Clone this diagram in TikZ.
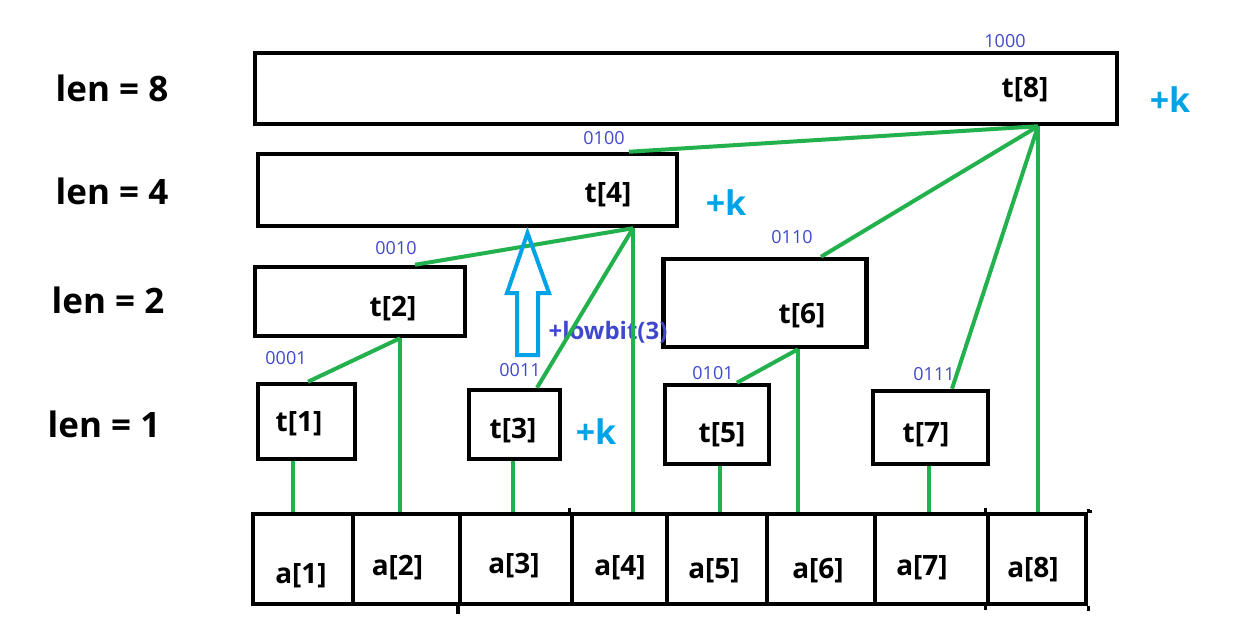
\documentclass[tikz,border=0pt]{standalone}
\usepackage{fontspec}
\setmainfont{Open Sans}
\definecolor{pgreen}{HTML}{22B14C}
\definecolor{pblue}{HTML}{00A2E8}
\definecolor{pindigo}{HTML}{3F48CC}
\tikzset{
  box/.style={draw=black, line width=4.5pt, rectangle, inner sep=0pt, fill=none},
  cell/.style={draw=black, line width=4.5pt, rectangle, inner sep=0pt},
  conn/.style={draw=pgreen, line width=4pt},
  tlbl/.style={inner sep=0pt, font=\fontsize{28}{30}\selectfont\bfseries},
  lenlbl/.style={inner sep=0pt, font=\fontsize{35}{37}\selectfont\bfseries},
  bits/.style={inner sep=0pt, text=pindigo, font=\fontsize{18}{20}\selectfont},
  plusk/.style={inner sep=0pt, text=pblue, font=\fontsize{34}{36}\selectfont\bfseries},
  lowbit/.style={inner sep=0pt, text=pindigo, font=\fontsize{24}{26}\selectfont\bfseries},
  hollowarrow/.style={draw=pblue, line width=4pt, line join=miter}
}
\begin{document}
\begin{tikzpicture}[x=1pt,y=-1pt]
\useasboundingbox (0,0) rectangle (1236,636);

% level labels
\node[lenlbl] (len8) at (112,88) {len = 8};
\node[lenlbl] (len4) at (112,191) {len = 4};
\node[lenlbl] (len2) at (108,300) {len = 2};
\node[lenlbl] (len1) at (104,424) {len = 1};

% tree boxes
\node[box, minimum width=862pt, minimum height=71pt] (t8) at (686,88.5) {};
\node[box, minimum width=419pt, minimum height=72pt] (t4) at (467.5,190) {};
\node[box, minimum width=210pt, minimum height=69pt] (t2) at (360,301.5) {};
\node[box, minimum width=203pt, minimum height=88pt] (t6) at (765,303) {};
\node[box, minimum width=97pt, minimum height=75pt] (t1) at (306.5,421.5) {};
\node[box, minimum width=91pt, minimum height=69pt] (t3) at (514.5,424.5) {};
\node[box, minimum width=104pt, minimum height=79pt] (t5) at (717,424.5) {};
\node[box, minimum width=115pt, minimum height=73pt] (t7) at (930.5,427.5) {};

% tree labels
\node[tlbl] (t8l) at (1025,90) {t[8]};
\node[tlbl] (t4l) at (608,195) {t[4]};
\node[tlbl] (t2l) at (393,309) {t[2]};
\node[tlbl] (t6l) at (802,316) {t[6]};
\node[tlbl] (t1l) at (299,424) {t[1]};
\node[tlbl] (t3l) at (513,431) {t[3]};
\node[tlbl] (t5l) at (722,435) {t[5]};
\node[tlbl] (t7l) at (926,435) {t[7]};

% binary labels
\node[bits] (b8) at (1005,41) {1000};
\node[bits] (b4) at (604,138) {0100};
\node[bits] (b2) at (396,248) {0010};
\node[bits] (b6) at (792,237) {0110};
\node[bits] (b1) at (286,358) {0001};
\node[bits] (b3) at (520,370) {0011};
\node[bits] (b5) at (713,373) {0101};
\node[bits] (b7) at (934,374) {0111};

% +k labels
\node[plusk] (k8) at (1170,100) {+k};
\node[plusk] (k4) at (726,203) {+k};
\node[plusk] (k3) at (596,432) {+k};
\node[lowbit] (lb) at (608,332) {+lowbit(3)};

% array cells
\node[cell, minimum width=100pt, minimum height=90pt] (a1) at (303,559) {};
\node[cell, minimum width=107pt, minimum height=90pt] (a2) at (406.5,559) {};
\node[cell, minimum width=112pt, minimum height=90pt] (a3) at (516,559) {};
\node[cell, minimum width=95pt, minimum height=90pt] (a4) at (619.5,559) {};
\node[cell, minimum width=100pt, minimum height=90pt] (a5) at (717,559) {};
\node[cell, minimum width=108pt, minimum height=90pt] (a6) at (821,559) {};
\node[cell, minimum width=113pt, minimum height=90pt] (a7) at (931.5,559) {};
\node[cell, minimum width=98pt, minimum height=90pt] (a8) at (1037,559) {};
\node[tlbl] (a1l) at (301,576) {a[1]};
\node[tlbl] (a2l) at (397.5,568) {a[2]};
\node[tlbl] (a3l) at (514,566) {a[3]};
\node[tlbl] (a4l) at (620,568) {a[4]};
\node[tlbl] (a5l) at (714,571) {a[5]};
\node[tlbl] (a6l) at (818,571) {a[6]};
\node[tlbl] (a7l) at (922,568) {a[7]};
\node[tlbl] (a8l) at (1033,570) {a[8]};
% sketchy overshoots of the array lines
\draw[black, line width=4pt] (a3.south west) -- ++(0,8);
\draw[black, line width=3pt] (a4.north west) -- ++(0,-4);
\draw[black, line width=3pt] (a8.north west) -- ++(0,-4);
\draw[black, line width=3pt] (a8.south west) -- ++(0,4);
\draw[black, line width=3pt] (a8.north east) -- ++(0,-3);
\draw[black, line width=3pt] (a8.south east) -- ++(0,5);
\draw[black, line width=3pt] (a8.north east) -- ++(4,0);

% connectors: t to a
\draw[conn] (293,0 |- t1.south) -- (293,0 |- a1.north);
\draw[conn] (400,0 |- t2.south) -- (400,0 |- a2.north);
\draw[conn] (513,0 |- t3.south) -- (513,0 |- a3.north);
\draw[conn] (633,0 |- t4.south) -- (633,0 |- a4.north);
\draw[conn] (720,0 |- t5.south) -- (720,0 |- a5.north);
\draw[conn] (798,0 |- t6.south) -- (798,0 |- a6.north);
\draw[conn] (929,0 |- t7.south) -- (929,0 |- a7.north);
\draw[conn] (1038,0 |- t8.south) -- (1038,0 |- a8.north);
% connectors: t to t
\draw[conn] (308,0 |- t1.north) -- (400,0 |- t2.south);
\draw[conn] (415,0 |- t2.north) -- (633,0 |- t4.south);
\draw[conn] (537,0 |- t3.north) -- (633,0 |- t4.south);
\draw[conn] (629,0 |- t4.north) -- (1038,0 |- t8.south);
\draw[conn] (737,0 |- t5.north) -- (798,0 |- t6.south);
\draw[conn] (821,0 |- t6.north) -- (1038,0 |- t8.south);
\draw[conn] (952,0 |- t7.north) -- (1038,0 |- t8.south);

% hollow up arrow
\draw[hollowarrow] (517,355) -- (517,293) -- (507,293) -- (527.5,233) -- (549,293) -- (538,293) -- (538,355) -- cycle;
\end{tikzpicture}
\end{document}
